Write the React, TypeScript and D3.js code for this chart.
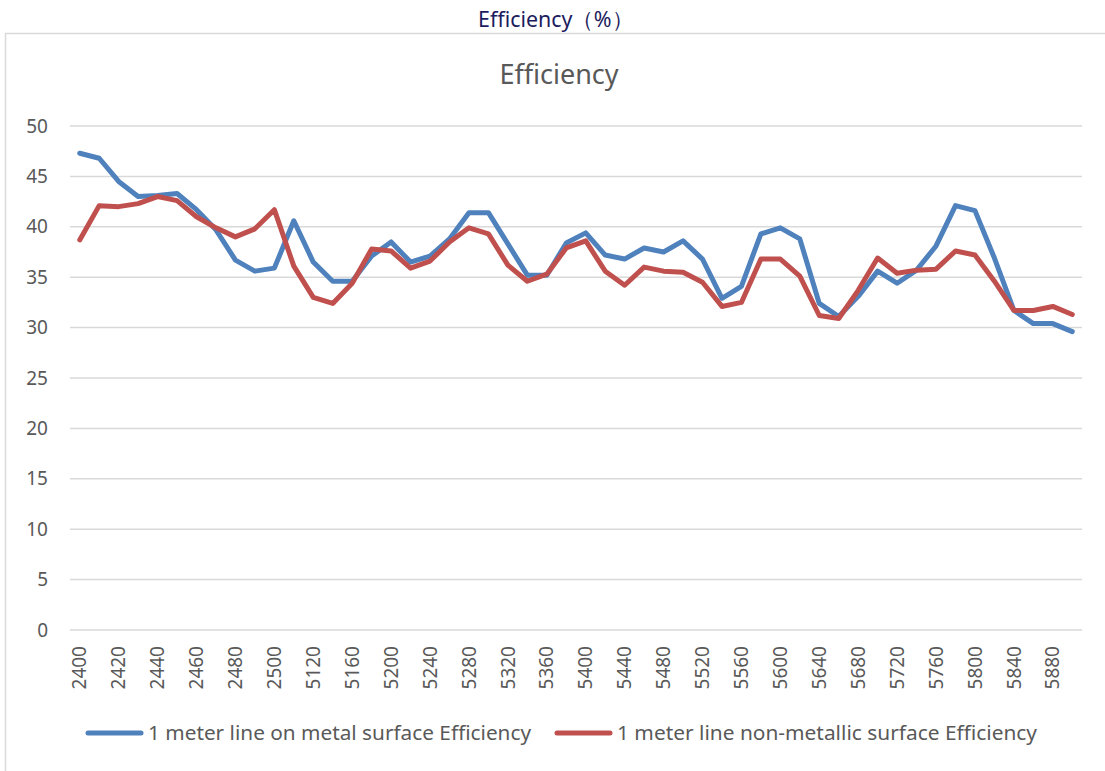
import React, { useEffect, useRef } from 'react';
import * as d3 from 'd3';

// frequency points (MHz); only every other one gets a label on the axis
const frequencies = [
  2400, 2410, 2420, 2430, 2440, 2450, 2460, 2470, 2480, 2490, 2500,
  5100, 5120, 5140, 5160, 5180, 5200, 5220, 5240, 5260, 5280, 5300,
  5320, 5340, 5360, 5380, 5400, 5420, 5440, 5460, 5480, 5500, 5520,
  5540, 5560, 5580, 5600, 5620, 5640, 5660, 5680, 5700, 5720, 5740,
  5760, 5780, 5800, 5820, 5840, 5860, 5880, 5900,
];

const metalEfficiency = [
  47.3, 46.8, 44.5, 43.0, 43.1, 43.3, 41.7, 39.7, 36.7, 35.6, 35.9,
  40.6, 36.5, 34.6, 34.6, 37.1, 38.5, 36.5, 37.1, 38.8, 41.4, 41.4,
  38.3, 35.2, 35.2, 38.4, 39.4, 37.2, 36.8, 37.9, 37.5, 38.6, 36.8,
  32.9, 34.1, 39.3, 39.9, 38.8, 32.4, 31.1, 33.1, 35.6, 34.4, 35.7,
  38.1, 42.1, 41.6, 36.9, 31.7, 30.4, 30.4, 29.6,
];

const nonMetalEfficiency = [
  38.7, 42.1, 42.0, 42.3, 43.0, 42.6, 41.0, 39.9, 39.0, 39.8, 41.7,
  36.1, 33.0, 32.4, 34.4, 37.8, 37.6, 35.9, 36.6, 38.5, 39.9, 39.3,
  36.2, 34.6, 35.3, 37.9, 38.6, 35.6, 34.2, 36.0, 35.6, 35.5, 34.5,
  32.1, 32.5, 36.8, 36.8, 35.1, 31.2, 30.9, 33.7, 36.9, 35.4, 35.7,
  35.8, 37.6, 37.2, 34.6, 31.7, 31.7, 32.1, 31.3,
];

const yTicks = [0, 5, 10, 15, 20, 25, 30, 35, 40, 45, 50];

const seriesNames = [
  '1 meter line on metal surface Efficiency',
  '1 meter line non-metallic surface Efficiency',
];
const seriesColors = ['#4f81bd', '#c0504d'];

const FONT = '"Noto Sans", "Open Sans", sans-serif';

export default function App() {
  const ref = useRef<SVGSVGElement>(null);

  useEffect(() => {
    const svg = d3.select(ref.current);
    svg.selectAll('*').remove();

    const x = d3.scalePoint<number>()
      .domain(frequencies)
      .range([70, 1082])
      .padding(0.5);
    const y = d3.scaleLinear().domain([0, 50]).range([630, 126]);

    // page title above the chart box
    svg.append('text')
      .attr('x', 478)
      .attr('y', 27)
      .attr('font-family', FONT)
      .attr('font-size', 22)
      .attr('fill', '#1c1c5e')
      .attr('textLength', 155)
      .attr('lengthAdjust', 'spacingAndGlyphs')
      .text('Efficiency（%）');

    // chart frame
    svg.append('rect')
      .attr('x', 5.5)
      .attr('y', 33.5)
      .attr('width', 1110)
      .attr('height', 760)
      .attr('fill', 'white')
      .attr('stroke', '#d9d9d9')
      .attr('stroke-width', 1.5);

    svg.append('text')
      .attr('x', 559)
      .attr('y', 84)
      .attr('text-anchor', 'middle')
      .attr('font-family', FONT)
      .attr('font-size', 27)
      .attr('fill', '#595959')
      .text('Efficiency');

    // horizontal grid + y labels
    const grid = svg.append('g');
    grid.selectAll('line')
      .data(yTicks)
      .join('line')
      .attr('x1', 70)
      .attr('x2', 1082)
      .attr('y1', d => y(d))
      .attr('y2', d => y(d))
      .attr('stroke', '#d9d9d9')
      .attr('stroke-width', 1.5);
    grid.selectAll('text')
      .data(yTicks)
      .join('text')
      .attr('x', 48)
      .attr('y', d => y(d))
      .attr('dy', '0.35em')
      .attr('text-anchor', 'end')
      .attr('font-family', FONT)
      .attr('font-size', 19)
      .attr('fill', '#595959')
      .text(d => d);

    // x labels, rotated, every other category
    svg.append('g')
      .selectAll('text')
      .data(frequencies.filter((d, i) => i % 2 === 0))
      .join('text')
      .attr('transform', d => `translate(${x(d)}, 646) rotate(-90)`)
      .attr('dy', '0.35em')
      .attr('text-anchor', 'end')
      .attr('font-family', FONT)
      .attr('font-size', 19)
      .attr('fill', '#595959')
      .text(d => d);

    // series lines
    const line = d3.line<number>()
      .x((d, i) => x(frequencies[i]) as number)
      .y(d => y(d));

    [metalEfficiency, nonMetalEfficiency].forEach((values, k) => {
      svg.append('path')
        .datum(values)
        .attr('fill', 'none')
        .attr('stroke', seriesColors[k])
        .attr('stroke-width', 5)
        .attr('stroke-linejoin', 'round')
        .attr('stroke-linecap', 'round')
        .attr('d', line);
    });

    // legend
    const legendX = [88, 557];
    const legendW = [383, 420];
    seriesNames.forEach((name, k) => {
      const g = svg.append('g').attr('transform', `translate(${legendX[k]}, 733)`);
      g.append('line')
        .attr('x1', 0)
        .attr('x2', 53)
        .attr('stroke', seriesColors[k])
        .attr('stroke-width', 5)
        .attr('stroke-linecap', 'round');
      g.append('text')
        .attr('x', 60)
        .attr('dy', '0.35em')
        .attr('font-family', FONT)
        .attr('font-size', 20)
        .attr('fill', '#595959')
        .attr('textLength', legendW[k])
        .attr('lengthAdjust', 'spacingAndGlyphs')
        .text(name);
    });
  }, []);

  return (
    <div style={{ position: 'absolute', left: 0, top: 0 }}>
      <svg ref={ref} width={1105} height={771} style={{ display: 'block' }}></svg>
    </div>
  );
}
